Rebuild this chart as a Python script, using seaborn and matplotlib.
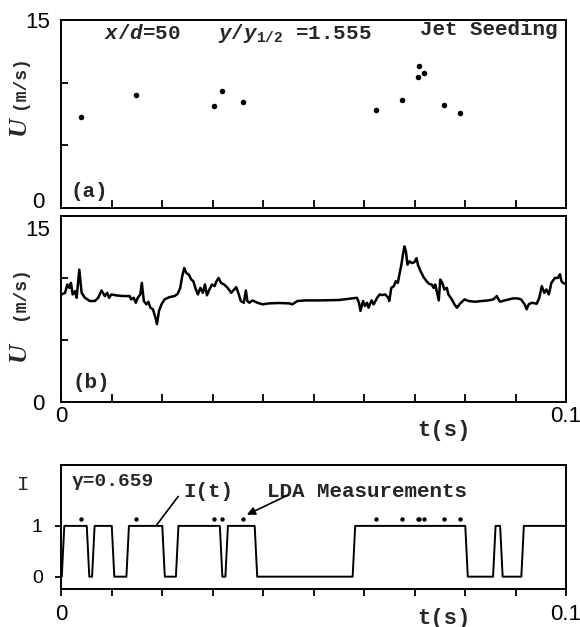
import numpy as np
import pandas as pd
import matplotlib
matplotlib.use("Agg")
import matplotlib.pyplot as plt
import matplotlib.transforms as mtransforms
import seaborn as sns

# ---------------------------------------------------------------- data
# (a) LDA samples: arrival time [ms] and velocity [m/s]
lda_t_ms = [4.0, 14.9, 30.3, 31.9, 36.0, 62.4, 67.5, 70.7, 70.9, 71.8, 75.9, 79.0]
lda_u = [7.25, 9.04, 8.14, 9.33, 8.49, 7.80, 8.64, 10.48, 11.33, 10.80, 8.24, 7.58]

# (b) continuous velocity trace: time [ms] and velocity [m/s]
trace_t_ms = [
    0.1, 0.8, 1.25, 1.64, 1.97, 2.3, 2.76, 3.09, 3.62, 4.08, 4.73, 5.72, 6.71,
    7.36, 8.02, 8.68, 9.14, 9.53, 9.99, 10.98, 12.3, 13.6, 13.9, 14.4, 14.8,
    15.2, 15.7, 16.0, 16.4, 16.9, 17.3, 17.7, 18.2, 18.7, 19.0, 19.4, 19.9,
    20.5, 21.5, 22.5, 23.1, 23.6, 24.0, 24.4, 24.8, 25.3, 25.8, 26.2, 26.6,
    27.1, 27.6, 28.1, 28.5, 28.9, 29.4, 29.9, 30.4, 30.8, 31.2, 31.7, 32.3,
    33.0, 33.7, 34.3, 34.7, 35.2, 35.6, 36.2, 36.6, 36.9, 37.3, 37.9, 38.9,
    39.9, 41.2, 43.2, 45.2, 45.8, 46.8, 48.5, 51.1, 55.0, 57.0, 58.6, 59.0,
    59.3, 59.8, 60.2, 60.6, 60.9, 61.5, 61.9, 62.6, 63.1, 63.6, 64.2, 64.8,
    65.0, 65.4, 65.9, 66.3, 66.7, 67.0, 67.4, 67.7, 68.0, 68.3, 68.6, 69.0,
    69.5, 70.0, 70.4, 70.7, 71.2, 71.8, 72.5, 72.9, 73.4, 73.8, 74.1, 74.4,
    74.8, 75.1, 75.5, 75.9, 76.4, 76.7, 77.4, 77.9, 78.4, 79.0, 79.9, 80.7,
    82.0, 83.3, 84.6, 85.6, 86.3, 86.9, 87.9, 89.5, 90.4, 91.1, 91.8, 92.2,
    92.6, 93.2, 94.2, 94.7, 95.2, 95.7, 96.1, 96.6, 97.1, 97.8, 98.4, 98.8,
    99.1, 99.4, 100.0,
]
trace_u = [
    8.67, 8.8, 9.47, 9.2, 9.6, 8.67, 8.94, 8.4, 10.67, 8.8, 8.4, 8.14, 8.14,
    8.4, 8.99, 8.54, 8.8, 8.4, 8.67, 8.59, 8.54, 8.54, 8.27, 8.4, 8.0,
    8.4, 8.67, 9.6, 8.14, 7.87, 8.08, 7.6, 7.47, 6.8, 6.27, 7.34, 7.87,
    8.27, 8.46, 8.54, 8.72, 9.2, 10.14, 10.8, 10.4, 10.27, 9.87, 9.74, 9.2,
    8.67, 9.2, 8.8, 9.47, 8.6, 9.08, 9.47, 9.34, 9.74, 10.0, 9.6, 9.47,
    9.2, 8.8, 9.07, 9.26, 8.67, 8.14, 8.0, 8.99, 8.14, 8.0, 8.19, 8.0,
    7.87, 7.95, 7.98, 7.95, 7.87, 8.14, 8.19, 8.19, 8.22, 8.32, 8.4, 8.0,
    7.34, 8.14, 7.74, 8.0, 7.6, 8.19, 7.87, 8.4, 8.67, 8.62, 8.67, 8.4,
    8.14, 9.2, 9.34, 9.74, 9.6, 10.27, 11.07, 11.87, 12.54, 12.14, 11.07, 11.34,
    11.2, 11.28, 11.6, 11.02, 10.54, 10.06, 9.68, 9.52, 9.47, 9.2, 9.47, 8.94,
    8.19, 9.87, 9.6, 9.07, 9.2, 8.67, 8.27, 7.87, 7.6, 7.92, 8.27, 8.14,
    8.08, 8.14, 8.19, 8.27, 8.54, 8.08, 8.19, 8.35, 8.35, 8.27, 7.87, 7.47,
    7.87, 8.0, 7.92, 8.4, 9.34, 8.8, 9.07, 8.67, 9.6, 10.0, 10.0, 10.3,
    9.74, 9.6, 9.5,
]

# (c) intermittency function: switching times [ms], starting from I = 0
switch_t_ms = [0.4, 5.35, 6.4, 10.3, 13.2, 20.3, 23.0, 31.7, 32.8, 38.6,
               58.0, 80.3, 85.8, 87.2, 91.4]
lda_marker_level = 1.13
gamma_text = "γ=0.659"

x_tick_labels = ["0"] + [""] * 9 + ["0.1"]
u_tick_labels = ["0", "", "", "15"]

# ---------------------------------------------------------------- style
sns.set_theme(style="ticks")
plt.rcParams.update({
    "font.family": ["Liberation Mono", "DejaVu Sans Mono"],
    "font.weight": "bold",
    "mathtext.fontset": "custom",
    "mathtext.it": "Liberation Mono:italic:bold",
    "mathtext.rm": "Liberation Mono:bold",
    "mathtext.bf": "Liberation Mono:bold",
    "axes.edgecolor": "black",
    "axes.linewidth": 1.4,
    "xtick.color": "black",
    "ytick.color": "black",
})

MONO = 15
TICKFONT = dict(fontfamily="Liberation Sans", fontweight="normal", fontsize=16)

df_a = pd.DataFrame({"t": np.array(lda_t_ms) / 1000.0, "U": lda_u})
df_b = pd.DataFrame({"t": np.array(trace_t_ms) / 1000.0, "U": trace_u})

# square wave with short ramps at the switching instants
ramp = 0.5
wave_t, wave_i, state = [0.0], [0], 0
for ts in switch_t_ms:
    wave_t += [ts - ramp / 2, ts + ramp / 2]
    wave_i += [state, 1 - state]
    state = 1 - state
wave_t.append(100.0)
wave_i.append(state)
df_c = pd.DataFrame({"t": np.array(wave_t) / 1000.0, "I": wave_i})
df_c_pts = pd.DataFrame({"t": df_a["t"], "I": lda_marker_level})

fig = plt.figure(figsize=(5.8, 6.27), dpi=100)
left, width = 0.1052, 0.8707
ax_a = fig.add_axes([left, 0.6683, width, 0.2998])
ax_b = fig.add_axes([left, 0.3589, width, 0.2967])
ax_c = fig.add_axes([left, 0.0606, width, 0.1978])

xticks = np.linspace(0, 0.1, 11)


def nudge(label, dy_px):
    """Shift a tick label vertically by a few pixels."""
    off = mtransforms.ScaledTranslation(0, dy_px / fig.dpi, fig.dpi_scale_trans)
    label.set_transform(label.get_transform() + off)


# ---------------------------------------------------------------- (a)
sns.scatterplot(data=df_a, x="t", y="U", ax=ax_a, color="black", s=16,
                linewidth=0, legend=False)
ax_a.set_xlim(0, 0.1)
ax_a.set_ylim(0, 15)
ax_a.set_xticks(xticks)
ax_a.tick_params(axis="x", direction="in", length=6, width=1.3,
                 bottom=True, labelbottom=False)
ax_a.set_yticks([0, 5, 10, 15], u_tick_labels, ha="center", **TICKFONT)
ax_a.tick_params(axis="y", direction="in", length=5, width=1.3, pad=16.5,
                 left=True)
ax_a.get_yticklabels()[0].set_va("bottom")
nudge(ax_a.get_yticklabels()[0], -5)
ax_a.set_xlabel("")
ax_a.set_ylabel("")
ax_a.text(0.085, 0.93, "$x/d$=50", transform=ax_a.transAxes, fontsize=MONO,
          ha="left", va="center")
ax_a.text(0.31, 0.93, "$y/y_{1/2}$ =1.555", transform=ax_a.transAxes,
          fontsize=MONO, ha="left", va="center")
ax_a.text(0.983, 0.95, "Jet Seeding", transform=ax_a.transAxes, fontsize=MONO,
          ha="right", va="center")
ax_a.text(0.019, 0.085, "(a)", transform=ax_a.transAxes, fontsize=MONO,
          ha="left", va="center")

# ---------------------------------------------------------------- (b)
sns.lineplot(data=df_b, x="t", y="U", ax=ax_b, color="black", lw=1.8,
             estimator=None, sort=False)
ax_b.set_xlim(0, 0.1)
ax_b.set_ylim(0, 15)
ax_b.set_xticks(xticks, x_tick_labels, **TICKFONT)
ax_b.tick_params(axis="x", direction="in", length=6, width=1.3, pad=3,
                 bottom=True)
ax_b.set_yticks([0, 5, 10, 15], u_tick_labels, ha="center", **TICKFONT)
ax_b.tick_params(axis="y", direction="in", length=5, width=1.3, pad=16.5,
                 left=True)
ax_b.get_yticklabels()[3].set_va("top")
nudge(ax_b.get_yticklabels()[3], -4)
ax_b.set_xlabel("")
ax_b.set_ylabel("")
ax_b.text(0.023, 0.103, "(b)", transform=ax_b.transAxes, fontsize=MONO,
          ha="left", va="center")
ax_b.text(0.758, -0.152, "t(s)", transform=ax_b.transAxes, fontsize=16,
          ha="center", va="center")

# ---------------------------------------------------------------- (c)
sns.lineplot(data=df_c, x="t", y="I", ax=ax_c, color="black", lw=1.4,
             estimator=None, sort=False)
sns.scatterplot(data=df_c_pts, x="t", y="I", ax=ax_c, color="black", s=10,
                linewidth=0, legend=False)
ax_c.set_xlim(0, 0.1)
ax_c.set_ylim(-0.243, 2.2)
ax_c.set_xticks(xticks, x_tick_labels, **TICKFONT)
ax_c.tick_params(axis="x", direction="out", length=5, width=1.3, pad=6,
                 bottom=True)
ax_c.set_yticks([0, 1], ["0", "1"], ha="center", fontfamily="Liberation Sans",
                fontweight="normal", fontsize=14)
ax_c.tick_params(axis="y", direction="out", length=4, width=1.3, pad=13,
                 left=True)
ax_c.set_xlabel("")
ax_c.set_ylabel("")
ax_c.text(0.0021, 1.87, gamma_text, fontsize=14, ha="left", va="center")
ax_c.text(0.0242, 1.68, "I(t)", fontsize=MONO, ha="left", va="center")
ax_c.annotate("", xy=(0.01895, 1.02), xytext=(0.0232, 1.58),
              arrowprops=dict(arrowstyle="-", lw=1.2, color="black",
                              shrinkA=0, shrinkB=0))
ax_c.text(0.0407, 1.68, "LDA Measurements", fontsize=MONO, ha="left",
          va="center")
ax_c.annotate("", xy=(0.0368, 1.22), xytext=(0.0450, 1.61),
              arrowprops=dict(arrowstyle="-|>", lw=1.2, color="black",
                              mutation_scale=12, shrinkA=0, shrinkB=0))
ax_c.text(0.758, -0.234, "t(s)", transform=ax_c.transAxes, fontsize=16,
          ha="center", va="center")

# ---------------------------------------------------------------- axis titles
fig.text(0.033, 0.869, "(m/s)", rotation=90, fontsize=13, ha="center", va="center")
fig.text(0.031, 0.800, "U", rotation=90, fontsize=19, ha="center", va="center",
         family="Liberation Serif", style="italic", weight="bold")
fig.text(0.033, 0.533, "(m/s)", rotation=90, fontsize=13, ha="center", va="center")
fig.text(0.031, 0.440, "U", rotation=90, fontsize=19, ha="center", va="center",
         family="Liberation Serif", style="italic", weight="bold")
fig.text(0.0397, 0.2265, "I", fontsize=15, ha="center", va="center",
         weight="normal")

for ax in (ax_a, ax_b, ax_c):
    for side in ax.spines.values():
        side.set_visible(True)
        side.set_color("black")
        side.set_linewidth(1.4)

fig.savefig("out.png", dpi=100, facecolor="white")
